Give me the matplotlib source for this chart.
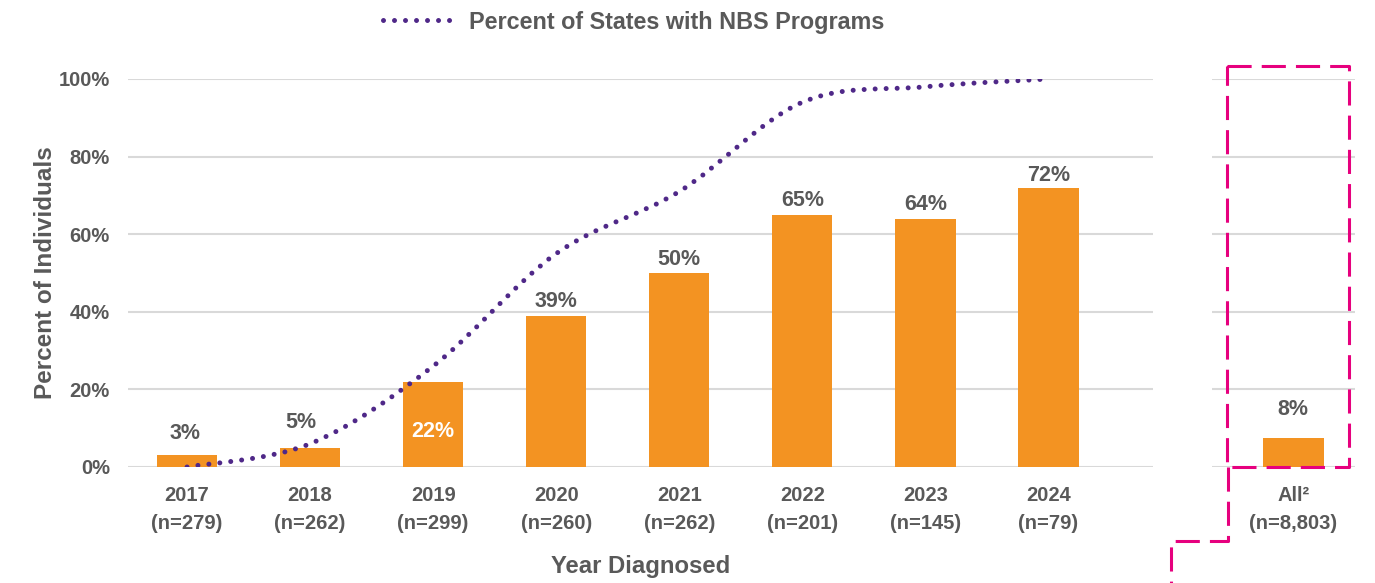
import matplotlib.pyplot as plt
from matplotlib.path import Path
from matplotlib.patches import PathPatch
from matplotlib.lines import Line2D
import numpy as np

# data
years = ['2017', '2018', '2019', '2020', '2021', '2022', '2023', '2024']
counts = ['279', '262', '299', '260', '262', '201', '145', '79']
pct_individuals = [3, 5, 22, 39, 50, 65, 64, 72]
pct_states = [0, 6, 26, 55, 71, 94, 98, 100]
all_label = 'All²\n(n=8,803)'
all_value = 7.6

gray = '#595959'
orange = '#F39322'
purple = '#4F2888'
pink = '#E6007E'
grid_gray = '#D9D9D9'

plt.rcParams['font.family'] = ['Liberation Sans', 'DejaVu Sans']
plt.rcParams['font.weight'] = 'bold'

W, H = 1375, 583
fig = plt.figure(figsize=(W / 100, H / 100), dpi=100)

def px(x0, y0, x1, y1):
    # pixel box -> figure fraction [left, bottom, width, height]
    return [x0 / W, 1 - y1 / H, (x1 - x0) / W, (y1 - y0) / H]

ax = fig.add_axes(px(128, 79, 1153, 467))
ax2 = fig.add_axes(px(1212, 79, 1355, 467))

# main bars
x = np.arange(len(years))
bars = ax.bar(x, [v / 100 for v in pct_individuals], width=0.49, color=orange, zorder=2)

# bar labels (small bars get a bigger lift, 2019 sits inside the bar)
lift = [15.5, 18, -36, 10, 10, 10, 10, 9]
shift = [-1.5, -7, 0, 0, 0, 0, 0, 0]
for i, (b, v) in enumerate(zip(bars, pct_individuals)):
    inside = years[i] == '2019'
    ax.annotate(f'{v}%', (b.get_x() + b.get_width() / 2, v / 100),
                xytext=(shift[i], lift[i]), textcoords='offset points',
                ha='center', va='center', color='white' if inside else gray,
                fontsize=15.5, fontweight='bold', zorder=4)

# smoothed dotted line (catmull-rom as bezier segments)
pts = np.column_stack([x, np.array(pct_states) / 100])
verts = [pts[0]]
codes = [Path.MOVETO]
for i in range(len(pts) - 1):
    p0 = pts[i - 1] if i > 0 else pts[i]
    p1, p2 = pts[i], pts[i + 1]
    p3 = pts[i + 2] if i + 2 < len(pts) else pts[i + 1]
    verts += [p1 + (p2 - p0) / 6, p2 - (p3 - p1) / 6, p2]
    codes += [Path.CURVE4] * 3
dots = (0, (0.001, 2.2))
ax.add_patch(PathPatch(Path(verts, codes), fill=False, edgecolor=purple, lw=3.6,
                       linestyle=dots, capstyle='round', zorder=3))

ax.set_xlim(-0.48, 7.85)
ax.set_ylim(0, 1)
ax.set_yticks(np.arange(0, 1.01, 0.2))
ax.set_yticklabels([f'{int(round(t * 100))}%' for t in np.arange(0, 1.01, 0.2)])
ax.set_xticks(x)
ax.set_xticklabels([f'{y}\n(n={n})' for y, n in zip(years, counts)], linespacing=1.55)
ax.set_xlabel('Year Diagnosed', fontsize=17.2, color=gray, fontweight='bold', labelpad=16)
ax.set_ylabel('Percent of Individuals', fontsize=17.5, color=gray, fontweight='bold', labelpad=1)

# second panel: all years
ax2.bar([0], [all_value / 100], width=0.49, color=orange, zorder=2)
ax2.annotate(f'{all_value:.0f}%', (0, all_value / 100), xytext=(0, 20), textcoords='offset points',
             ha='center', va='center', color=gray, fontsize=15.5, fontweight='bold')
ax2.set_xlim(-0.66, 0.5)
ax2.set_ylim(0, 1)
ax2.set_yticks(np.arange(0, 1.01, 0.2))
ax2.set_yticklabels([])
ax2.set_xticks([0])
ax2.set_xticklabels([all_label], linespacing=1.55)

for a in (ax, ax2):
    for s in a.spines.values():
        s.set_visible(False)
    a.grid(axis='y', color=grid_gray, lw=1.5, zorder=0)
    a.set_axisbelow(True)
    a.tick_params(length=0, labelsize=14.5, labelcolor=gray)
    a.tick_params(axis='x', pad=14)
    a.tick_params(axis='y', pad=13)

# legend on top
h = Line2D([], [], color=purple, lw=3.6, linestyle=dots, dash_capstyle='round')
fig.legend([h], ['Percent of States with NBS Programs'], loc='center',
           bbox_to_anchor=(634 / W, 1 - 22 / H), frameon=False, handlelength=2.95,
           handletextpad=0.75, borderpad=0, prop={'size': 16.8, 'weight': 'bold'},
           labelcolor=gray)

# pink dashed callout box
dash = (0, (7.9, 3.3))
box = [(1227, 66), (1349, 66), (1349, 467), (1227, 467), (1227, 66)]
fig.add_artist(Line2D([p[0] / W for p in box], [1 - p[1] / H for p in box],
                      transform=fig.transFigure, color=pink, lw=2.2, linestyle=dash))
tail = [(1228, 467), (1228, 541), (1171, 541), (1171, 583)]
fig.add_artist(Line2D([p[0] / W for p in tail], [1 - p[1] / H for p in tail],
                      transform=fig.transFigure, color=pink, lw=2.2, linestyle=dash))

fig.savefig('out.png', dpi=100)
